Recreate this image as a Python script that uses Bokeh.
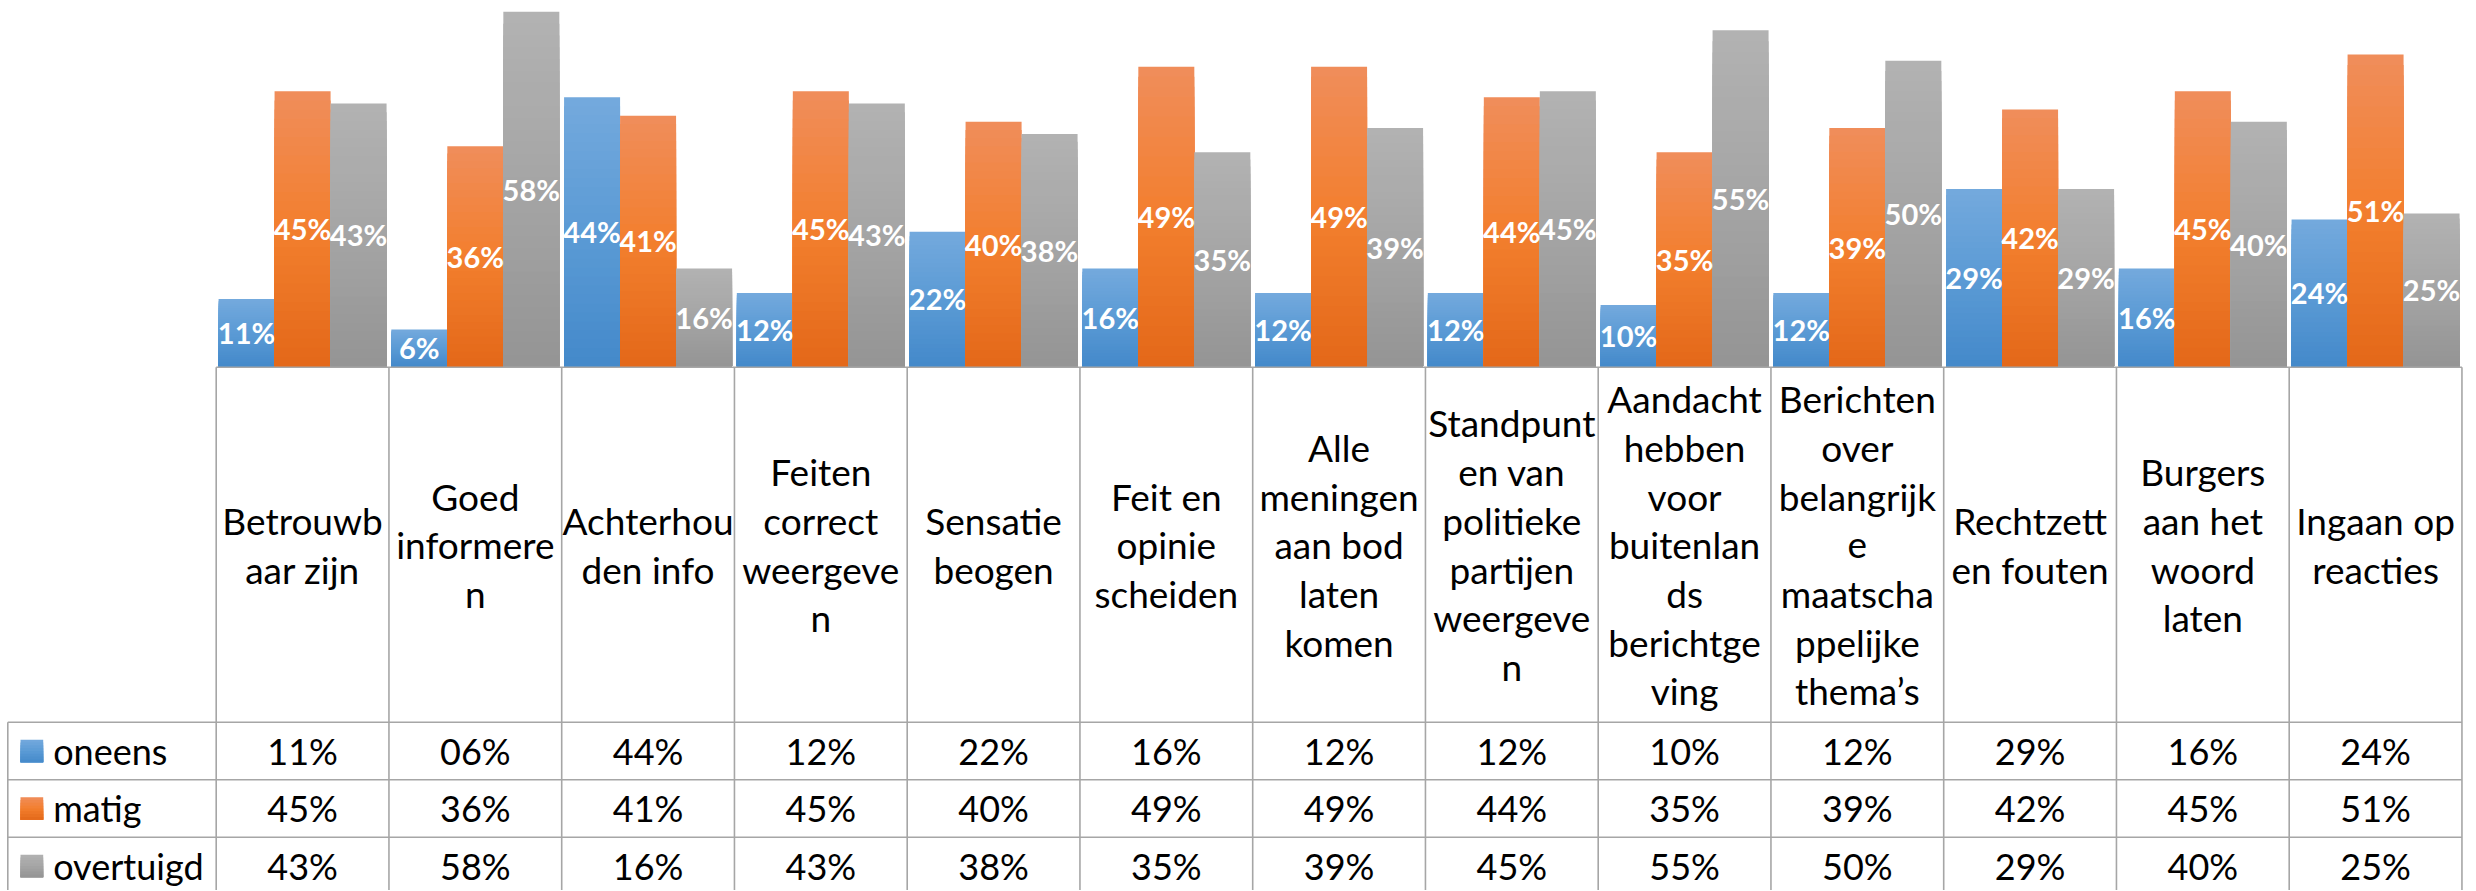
from bokeh.plotting import figure
from bokeh.models import Range1d, ColumnDataSource
from bokeh.transform import dodge
from bokeh.core.properties import value
from bokeh.embed import file_html
from bokeh.resources import INLINE

# ---------------- data ----------------
categories = [
    "Betrouwb\naar zijn",
    "Goed\ninformere\nn",
    "Achterhou\nden info",
    "Feiten\ncorrect\nweergeve\nn",
    "Sensatie\nbeogen",
    "Feit en\nopinie\nscheiden",
    "Alle\nmeningen\naan bod\nlaten\nkomen",
    "Standpunt\nen van\npolitieke\npartijen\nweergeve\nn",
    "Aandacht\nhebben\nvoor\nbuitenlan\nds\nberichtge\nving",
    "Berichten\nover\nbelangrijk\ne\nmaatscha\nppelijke\nthema\u2019s",
    "Rechtzett\nen fouten",
    "Burgers\naan het\nwoord\nlaten",
    "Ingaan op\nreacties",
]
series = ["oneens", "matig", "overtuigd"]
oneens = [11, 6, 44, 12, 22, 16, 12, 12, 10, 12, 29, 16, 24]
matig = [45, 36, 41, 45, 40, 49, 49, 44, 35, 39, 42, 45, 51]
overtuigd = [43, 58, 16, 43, 38, 35, 39, 45, 55, 50, 29, 40, 25]
values = {"oneens": oneens, "matig": matig, "overtuigd": overtuigd}

# gradient colours (top, middle, bottom) per series
gradients = {
    "oneens": ((116, 169, 221), (91, 155, 213), (68, 137, 202)),
    "matig": ((240, 141, 91), (243, 127, 46), (227, 104, 25)),
    "overtuigd": ((178, 178, 178), (165, 165, 165), (148, 148, 148)),
}

# ---------------- layout constants (pixels) ----------------
FONT = "Lato"
W, H = 2476, 890
NCOL = len(categories)
COL_LEFT = 215.7          # left edge of first data column
COL_PX = 172.75           # width of a data column
LEG_LEFT = 7.3            # left edge of legend column
BAR_PX = 56.0
BASE_Y = 365.7            # 0 % baseline
PX_PER_PCT = 6.11
ROW_TOP = 721.7           # top of first data row
ROW_PX = 57.5
HDR_TOP = 366.7
LINE_PX = 48.7
GRID = "#a6a6a6"

X0 = -COL_LEFT / COL_PX
X1 = X0 + W / COL_PX
Y_TOP = ROW_TOP / ROW_PX
Y_BOT = Y_TOP - H / ROW_PX
HDR = (ROW_TOP - HDR_TOP) / ROW_PX
LEG = (COL_LEFT - LEG_LEFT) / COL_PX
PCT_TOP = BASE_Y / PX_PER_PCT
PCT_BOT = PCT_TOP - H / PX_PER_PCT
BW = BAR_PX / COL_PX


def grad_color(stops, t):
    top, mid, bot = stops
    if t < 0.5:
        a, b, f = bot, mid, t / 0.5
    else:
        a, b, f = mid, top, (t - 0.5) / 0.5
    c = [round(a[i] + (b[i] - a[i]) * f) for i in range(3)]
    return "#%02x%02x%02x" % tuple(c)


p = figure(
    width=W, height=H,
    x_range=Range1d(X0, X1), y_range=Range1d(Y_BOT, Y_TOP),
    output_backend="svg", toolbar_location=None,
    x_axis_location=None, y_axis_location=None,
    min_border_left=0, min_border_right=0, min_border_top=0, min_border_bottom=0,
)
p.extra_y_ranges = {"pct": Range1d(PCT_BOT, PCT_TOP)}
p.xgrid.visible = False
p.ygrid.visible = False
p.outline_line_color = None
p.background_fill_color = "white"
p.border_fill_color = "white"

idx = [i + 0.5 for i in range(NCOL)]
offsets = {"oneens": -BW, "matig": 0.0, "overtuigd": BW}

# ---------------- bars (vertical gradient by stacked bands) ----------------
N = 30
for s in series:
    xs, tops, cols = [], [], []
    for k in range(N):
        frac_top = (N - k) / N
        col = grad_color(gradients[s], (N - k - 0.5) / N)
        for x, v in zip(idx, values[s]):
            xs.append(x)
            tops.append(v * frac_top)
            cols.append(col)
    src = ColumnDataSource(dict(x=xs, top=tops, color=cols))
    p.vbar(x=dodge("x", offsets[s], range=p.x_range), top="top", bottom=0,
           width=BW, source=src, fill_color="color", line_color=None,
           y_range_name="pct")

for s in series:
    lab = ColumnDataSource(dict(
        x=idx,
        y=[v / 2 for v in values[s]],
        text=["%d%%" % v for v in values[s]],
    ))
    p.text(x=dodge("x", offsets[s], range=p.x_range), y="y", text="text",
           source=lab, y_range_name="pct", text_color="white",
           text_font=value(FONT), text_font_style="bold", text_font_size="29px",
           text_align="center", text_baseline="middle")

# ---------------- data table ----------------
p.segment(x0=[0], y0=[HDR], x1=[NCOL], y1=[HDR], line_color=GRID, line_width=1.6)
row_edges = [0, -1, -2, -3]
p.segment(x0=[-LEG] * 4, y0=row_edges, x1=[NCOL] * 4, y1=row_edges,
          line_color=GRID, line_width=1.6)
col_edges = list(range(NCOL + 1))
p.segment(x0=col_edges, y0=[HDR] * len(col_edges), x1=col_edges,
          y1=[Y_BOT] * len(col_edges), line_color=GRID, line_width=1.6)
p.segment(x0=[-LEG], y0=[0], x1=[-LEG], y1=[Y_BOT], line_color=GRID, line_width=1.6)

# category header labels
hx, hy, ht = [], [], []
for x, c in zip(idx, categories):
    lines = c.split("\n")
    n = len(lines)
    for j, ln in enumerate(lines):
        hx.append(x)
        hy.append(HDR / 2 - (j - (n - 1) / 2) * LINE_PX / ROW_PX)
        ht.append(ln)
p.text(x="x", y="y", text="text", source=ColumnDataSource(dict(x=hx, y=hy, text=ht)),
       text_color="black", text_font=value(FONT), text_font_size="37px",
       text_align="center", text_baseline="middle")

# table values and legend
for r, s in enumerate(series):
    yc = -(r + 0.5)
    p.text(x="x", y="y", text="text",
           source=ColumnDataSource(dict(
               x=idx, y=[yc] * NCOL,
               text=["%02d%%" % v for v in values[s]])),
           text_color="black", text_font=value(FONT), text_font_size="36px",
           text_align="center", text_baseline="middle")
    kx0 = -LEG + 12.7 / COL_PX
    kx1 = -LEG + 35.4 / COL_PX
    kh = 22.5 / ROW_PX
    M = 8
    qb, qt, qc = [], [], []
    for k in range(M):
        qb.append(yc - kh / 2)
        qt.append(yc - kh / 2 + kh * (M - k) / M)
        qc.append(grad_color(gradients[s], (M - k - 0.5) / M))
    p.quad(left=[kx0] * M, right=[kx1] * M, bottom=qb, top=qt,
           fill_color=qc, line_color=None)
    p.text(x=[-LEG + 45.4 / COL_PX], y=[yc], text=[s], text_color="black",
           text_font=value(FONT), text_font_size="36px",
           text_align="left", text_baseline="middle")

open("out.html", "w").write(file_html(p, INLINE))
